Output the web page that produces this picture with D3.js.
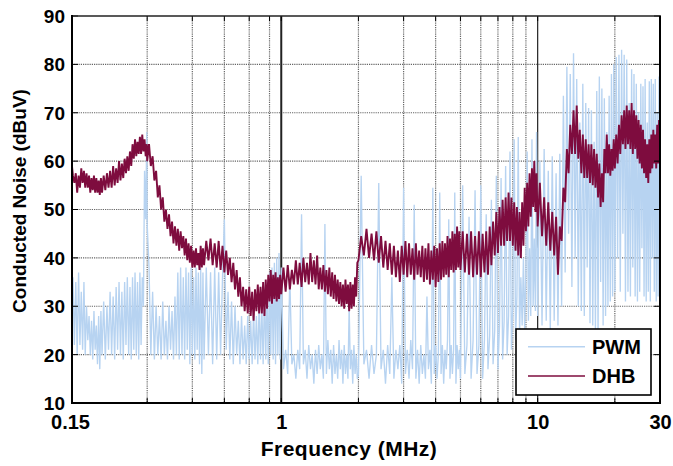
<!DOCTYPE html>
<html><head><meta charset="utf-8">
<script src="https://cdn.jsdelivr.net/npm/d3@7"></script>
<style>
body{margin:0;background:#fff}
svg text{font-family:"Liberation Sans",Arial,Helvetica,sans-serif;font-weight:bold;fill:#000}
</style>
</head><body>
<svg id="chart" width="673" height="466"></svg>
<script>
// Shared sweep frequencies (MHz)
const freqMHz = [
0.150,0.152,0.154,0.156,0.158,0.160,0.162,0.164,0.166,0.168,0.170,0.172,0.174,0.176,0.178,0.180,0.182,0.184,0.186,0.188,0.190,0.192,0.194,0.196,0.198,
0.200,0.203,0.206,0.209,0.212,0.215,0.218,0.221,0.224,0.227,0.230,0.233,0.236,0.239,0.242,0.245,0.248,0.251,0.254,0.257,0.260,0.263,0.266,0.269,0.272,0.275,0.278,0.281,0.284,0.287,0.290,0.293,0.296,0.299,
0.300,0.305,0.310,0.315,0.320,0.325,0.330,0.335,0.340,0.345,0.350,0.355,0.360,0.365,0.370,0.375,0.380,0.385,0.390,0.395,0.400,0.405,0.410,0.415,0.420,0.425,0.430,0.435,0.440,0.445,0.450,0.455,0.460,0.465,0.470,0.475,0.480,0.485,0.490,0.495,
0.50,0.51,0.52,0.53,0.54,0.55,0.56,0.57,0.58,0.59,0.60,0.61,0.62,0.63,0.64,0.65,0.66,0.67,0.68,0.69,0.70,0.71,0.72,0.73,0.74,0.75,0.76,0.77,0.78,0.79,0.80,0.81,0.82,0.83,0.84,0.85,0.86,0.87,0.88,0.89,0.90,0.91,0.92,0.93,0.94,0.95,0.96,0.97,0.98,0.99,
1.00,1.02,1.04,1.06,1.08,1.10,1.12,1.14,1.16,1.18,1.20,1.22,1.24,1.26,1.28,1.30,1.32,1.34,1.36,1.38,1.40,1.42,1.44,1.46,1.48,1.50,1.52,1.54,1.56,1.58,1.60,1.62,1.64,1.66,1.68,1.70,1.72,1.74,1.76,1.78,1.80,1.82,1.84,1.86,1.88,1.90,1.92,1.94,1.96,1.98,
2.00,2.05,2.10,2.15,2.20,2.25,2.30,2.35,2.40,2.45,2.50,2.55,2.60,2.65,2.70,2.75,2.80,2.85,2.90,2.95,3.00,3.05,3.10,3.15,3.20,3.25,3.30,3.35,3.40,3.45,3.50,3.55,3.60,3.65,3.70,3.75,3.80,3.85,3.90,3.95,4.00,4.05,4.10,4.15,4.20,4.25,4.30,4.35,4.40,4.45,4.50,4.55,4.60,4.65,4.70,4.75,4.80,4.85,4.90,4.95,
5.0,5.1,5.2,5.3,5.4,5.5,5.6,5.7,5.8,5.9,6.0,6.1,6.2,6.3,6.4,6.5,6.6,6.7,6.8,6.9,7.0,7.1,7.2,7.3,7.4,7.5,7.6,7.7,7.8,7.9,8.0,8.1,8.2,8.3,8.4,8.5,8.6,8.7,8.8,8.9,9.0,9.1,9.2,9.3,9.4,9.5,9.6,9.7,9.8,9.9,
10.0,10.2,10.4,10.6,10.8,11.0,11.2,11.4,11.6,11.8,12.0,12.2,12.4,12.6,12.8,13.0,13.2,13.4,13.6,13.8,14.0,14.2,14.4,14.6,14.8,15.0,15.2,15.4,15.6,15.8,16.0,16.2,16.4,16.6,16.8,17.0,17.2,17.4,17.6,17.8,18.0,18.2,18.4,18.6,18.8,19.0,19.2,19.4,19.6,19.8,
20.00,20.25,20.50,20.75,21.00,21.25,21.50,21.75,22.00,22.25,22.50,22.75,23.00,23.25,23.50,23.75,24.00,24.25,24.50,24.75,25.00,25.25,25.50,25.75,26.00,26.25,26.50,26.75,27.00,27.25,27.50,27.75,28.00,28.25,28.50,28.75,29.00,29.25,29.50,29.75,30.00
];

// PWM conducted noise (dBuV)
const pwm = [
30,21,36,22,35,20,37,22,33,21,35,20,30,23,28,20,27,19,29,21,26,18,28,17,29,
20,31,19,30,21,33,20,32,19,34,21,35,20,33,19,35,22,36,20,34,19,36,21,37,20,35,19,37,22,36,30,58,48,66,
47,38,20,33,19,30,20,28,19,31,20,27,19,30,21,29,19,32,20,37,19,38,20,36,19,38,21,37,18,38,20,36,19,38,21,37,18,38,16,37,
19,38,20,37,18,38,19,37,20,36,48,21,33,19,31,18,30,20,27,18,28,19,26,18,28,19,27,18,29,19,28,18,31,19,30,18,33,19,34,18,37,20,38,19,39,18,40,20,41,19,
38,17,21,16,36,18,20,15,21,17,49,18,21,15,22,17,20,14,21,16,22,17,20,15,47,16,23,17,21,14,22,16,20,15,23,17,21,14,22,16,20,15,30,17,21,14,22,16,20,15,
16,57,18,21,15,22,16,20,55.5,17,21,14,22,16,36,15,21,17,22,14,54.5,16,21,15,23,17,51,15,21,14,22,16,20,15,32,17,21,14,54.5,16,22,15,20,53.5,16,22,14,21,17,23,48,15,22,16,21,53.5,14,22,17,21,
15,55,16,22,48.5,15,23,54,16,22,55,15,23,49,17,24,52,18,25,57,17,26,56.5,19,27,59,20,28,62,21,30,64.5,23,32,65,24,36,26,40,25,38,62,27,42,28,64.5,30,44,29,66,
28,60,26,62.5,27,58,25,61,27,57.5,26,61.5,30,73.5,37,79.5,45,78,34,82.3,40,77,30,68,29,76,28,72,38,71,26.5,70.5,26,64,25,74.5,24,77.5,35,75,26,73,28,66,30,73.5,31,78,32,80,
33,81.5,40,82,33,83,45,82,31,81,33,72,32,79,38,78,32,76,31,70,33,76,42,75.5,32,77,31,68,33,76.5,31,77,40,76,33,77,31,70,32,77.5,33
];

// DHB conducted noise (dBuV)
const dhb = [
60.5,60,57,55.5,57.5,53.5,57,54.5,58.5,55.5,58,54.5,57.5,54.5,57,53.5,56.5,54,57,53.5,56.5,53.5,56,53,56.5,
53.5,57,54,57.5,54.5,58,54.5,59,55,58.5,55.5,60,56,59.5,56.5,60.5,57.5,61,58,62,59,63.5,60.5,64.5,61,64,61.5,65,61.5,65.5,62,64.5,61,63.5,
60,63.5,59,61,56,58,52.5,55,50,52.5,47.5,50,46,49,44.5,47.5,43,46.5,42.5,46,41.5,45.5,42,44.5,40.5,44,39.5,43,39,42.5,38,41.5,38,42,38.5,41,37.5,42.5,38,42,
38.5,43.5,39.5,44,38.5,43,38,43.5,37.5,42.5,37,41.5,36.5,40,35,39,33.5,37.5,32,36,30,34,29,33.5,28.5,34,28,33,27,33.5,29,34.5,28.5,34,28.5,35,28,35.5,29.5,36.5,31,37.5,30.5,36.5,31.5,37,31,36,31.5,36.5,
32.5,38,33,38.5,33.5,37.5,34.5,39.5,34.5,39,34,40,35,39,34.5,41,35,39.5,34.5,40.5,33.5,38,33.5,38.5,33,37.5,32.5,38,32,37,31.5,36.5,31,35.5,30.5,35,30,34.5,29.5,35.5,30.5,34.5,29,35,29.5,34.5,30,36,32,39,
39.5,44.5,40.5,46,40,45,39.5,45.5,39,44.5,38,43.5,37.5,43,36.5,42.5,36,41.5,35,42.5,36.5,43.5,36,43,36.5,42,35.5,43,36.5,41.5,36,42.5,35,42,35.5,43,34.5,41.5,35.5,42.5,34,42,35,43,35.5,43.5,36,43,36.5,44.5,36,44,37.5,45.5,37,45,37.5,46.5,38,45.5,
37.5,45.5,37,45,36.5,45.5,36,44.5,36.5,45.5,36,45,37,45.5,36.5,46.5,38.5,47.5,40.5,49.5,41,50.5,42.5,52,42.5,52.5,43.5,53.5,43.5,52.5,42.5,51.5,41.5,50.5,40.5,49.5,40,51.5,42.5,54.5,45.5,55.5,46.5,57.5,48.5,58.5,50.5,60,49.5,57.5,
46.5,55.5,44.5,52.5,42.5,51.5,41.5,49.5,40.5,48.5,36.5,46.5,43.5,54.5,51.5,62.5,57.5,67.5,61.5,70.5,61.5,71.5,60.5,66.5,57.5,65.5,56.5,64.5,56.5,63.5,55.5,63.5,55,62.5,54.5,61.5,52.5,59.5,50.5,57.5,51.5,62.5,57.5,65.5,57.5,63.5,57,62.5,58,64.5,
58.5,65.5,59.5,67.5,61.5,69.5,63.5,70.5,62.5,71.5,63.5,70.5,62.5,72,61.5,70.5,62.5,69.5,60.5,68.5,59.5,67.5,58.5,66.5,57.5,64.5,56.5,63.5,55.5,64.5,57.5,65.5,58.5,66.5,59.5,65.5,58.5,67.5,59.5,68.5,61.5
];

const seriesNames = ["PWM", "DHB"];
const seriesColors = ["#b7d3f1", "#7e0c3e"];
const yTicks = [10, 20, 30, 40, 50, 60, 70, 80, 90];
const xTickLabels = [0.15, 1, 10, 30];
const xGridValues = [0.3, 0.45, 0.6, 0.75, 0.9, 1, 2, 3, 4, 5, 6, 7, 8, 9, 10, 20];
const xTitle = "Frequency (MHz)";
const yTitle = "Conducted Noise (dBuV)";

(function draw() {
const pL = 72, pR = 660, pT = 16, pB = 403;
const FONT = '"Liberation Sans", Arial, Helvetica, sans-serif';

const svg = d3.select("#chart");
const x = d3.scaleLog().domain([0.15, 30]).range([70, 660]);
const y = d3.scaleLinear().domain([10, 90]).range([pB, pT]);

svg.append("defs").append("clipPath").attr("id", "plotclip")
  .append("rect").attr("x", pL).attr("y", pT).attr("width", pR - pL).attr("height", pB - pT);

// grid
const grid = svg.append("g");
grid.selectAll("line.h").data(yTicks.filter(v => v > 10 && v < 90)).join("line")
  .attr("x1", pL).attr("x2", pR).attr("y1", d => y(d)).attr("y2", d => y(d))
  .attr("stroke", "#666").attr("stroke-width", 1.2).attr("stroke-dasharray", "1.2,1");
grid.selectAll("line.v").data(xGridValues).join("line")
  .attr("x1", d => x(d)).attr("x2", d => x(d)).attr("y1", pT).attr("y2", pB)
  .attr("stroke", d => (d === 1 || d === 10) ? "#222" : "#666")
  .attr("stroke-width", d => d === 1 ? 2 : 1.2)
  .attr("stroke-dasharray", d => (d === 1 || d === 10) ? null : "1.2,1");

// data
const line = d3.line().x(d => x(d[0])).y(d => y(d[1]));
const plot = svg.append("g").attr("clip-path", "url(#plotclip)");
const n = Math.min(freqMHz.length, pwm.length, dhb.length);
const pwmData = d3.range(n).map(i => [freqMHz[i], pwm[i]]);
const dhbData = d3.range(n).map(i => [freqMHz[i], dhb[i]]);
plot.append("path").datum(pwmData).attr("d", line).attr("fill", "none")
  .attr("stroke", seriesColors[0]).attr("stroke-width", 1.35).attr("stroke-linejoin", "miter");
plot.append("path").datum(dhbData).attr("d", line).attr("fill", "none")
  .attr("stroke", seriesColors[1]).attr("stroke-width", 1.9).attr("stroke-linejoin", "miter");

// small inward ticks
const ticks = svg.append("g").attr("stroke", "#000").attr("stroke-width", 1);
ticks.selectAll("line.tb").data(xGridValues).join("line")
  .attr("x1", d => x(d)).attr("x2", d => x(d)).attr("y1", pB).attr("y2", pB - 5);
ticks.selectAll("line.tt").data(xGridValues).join("line")
  .attr("x1", d => x(d)).attr("x2", d => x(d)).attr("y1", pT).attr("y2", pT + 5);
ticks.selectAll("line.tr").data(yTicks).join("line")
  .attr("x1", pR).attr("x2", pR - 6).attr("y1", d => y(d)).attr("y2", d => y(d));
ticks.selectAll("line.tl").data(yTicks).join("line")
  .attr("x1", pL).attr("x2", pL + 6).attr("y1", d => y(d)).attr("y2", d => y(d));

// frame
const frame = svg.append("g").attr("fill", "none").attr("stroke", "#000");
frame.append("line").attr("x1", pL - 1).attr("x2", pR + 1).attr("y1", pT).attr("y2", pT).attr("stroke-width", 1.6).attr("stroke", "#222");
frame.append("line").attr("x1", pR).attr("x2", pR).attr("y1", pT).attr("y2", pB).attr("stroke-width", 2);
frame.append("line").attr("x1", pL).attr("x2", pL).attr("y1", pT - 1).attr("y2", pB + 1).attr("stroke-width", 2);
frame.append("line").attr("x1", pL - 1).attr("x2", pR + 1).attr("y1", pB).attr("y2", pB).attr("stroke-width", 2);

// axes labels
const gY = svg.append("g").attr("transform", `translate(${pL},0)`)
  .call(d3.axisLeft(y).tickValues(yTicks).tickSize(0).tickPadding(7).tickFormat(d3.format("d")));
gY.select(".domain").remove();
gY.selectAll("text").attr("font-size", 19).attr("font-family", FONT).attr("font-weight", "bold").attr("fill", "#000").attr("dy", "0.34em");

const gX = svg.append("g").attr("transform", `translate(0,${pB})`)
  .call(d3.axisBottom(x).tickValues(xTickLabels).tickSize(0).tickPadding(12).tickFormat(d => String(d)));
gX.select(".domain").remove();
gX.selectAll("text").attr("font-size", 20).attr("font-family", FONT).attr("font-weight", "bold").attr("fill", "#000");

// titles
svg.append("text").attr("x", 349).attr("y", 456).attr("text-anchor", "middle")
  .attr("font-size", 21).attr("letter-spacing", 0.5).attr("font-family", FONT).attr("font-weight", "bold").text(xTitle);
svg.append("text").attr("transform", "translate(26,201) rotate(-90)").attr("text-anchor", "middle")
  .attr("font-size", 19).attr("font-family", FONT).attr("font-weight", "bold").text(yTitle);

// legend
const lg = svg.append("g");
lg.append("rect").attr("x", 516).attr("y", 329).attr("width", 135).attr("height", 66)
  .attr("fill", "#fff").attr("stroke", "#000").attr("stroke-width", 1.6);
seriesNames.forEach((name, i) => {
  const ly = 346.7 + i * 29.3;
  lg.append("line").attr("x1", 528).attr("x2", 585).attr("y1", ly).attr("y2", ly)
    .attr("stroke", seriesColors[i]).attr("stroke-width", 1.4);
  lg.append("text").attr("x", 592).attr("y", ly + 7).attr("font-size", 20)
    .attr("font-family", FONT).attr("font-weight", "bold").text(name);
});
})();
</script>
</body></html>
